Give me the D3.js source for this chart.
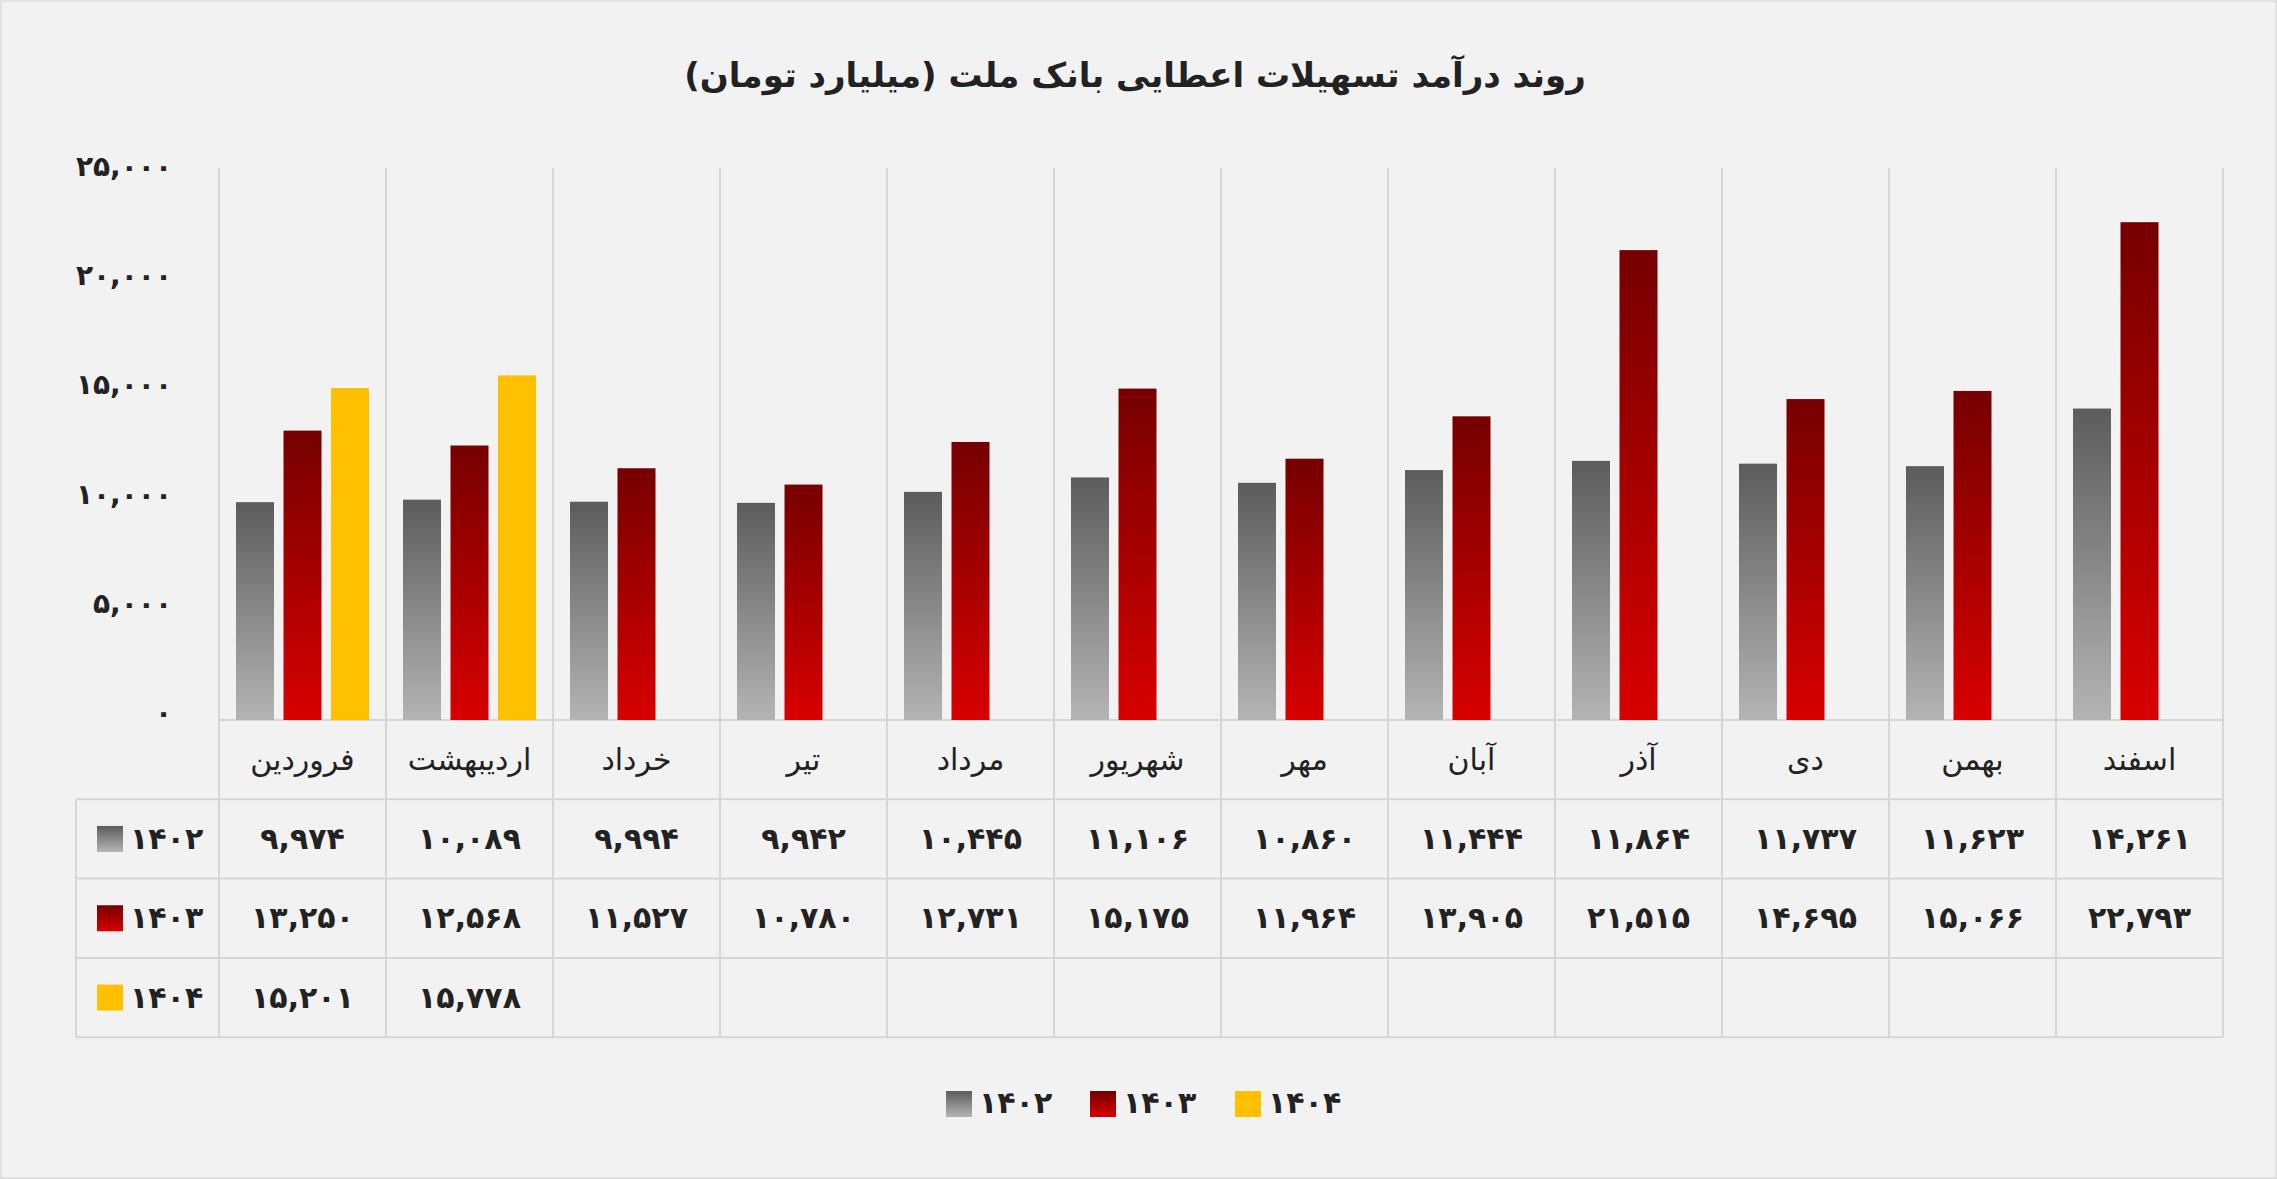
<!DOCTYPE html>
<html><head><meta charset="utf-8">
<script src="https://cdn.jsdelivr.net/npm/d3@7"></script>
<style>body{margin:0;background:#f2f2f2;font-family:"DejaVu Sans","Noto Sans",sans-serif}</style>
</head><body><svg id="chart" width="2277" height="1179"></svg>
<script>
// داده‌ها
const months = ["فروردین","اردیبهشت","خرداد","تیر","مرداد","شهریور","مهر","آبان","آذر","دی","بهمن","اسفند"];
const seriesNames = ["۱۴۰۲","۱۴۰۳","۱۴۰۴"];
const v1402 = [9974,10089,9994,9942,10445,11106,10860,11444,11864,11737,11623,14261];
const v1403 = [13250,12568,11527,10780,12731,15175,11964,13905,21515,14695,15066,22793];
const v1404 = [15201,15778,null,null,null,null,null,null,null,null,null,null];
const yTicks = [0,5000,10000,15000,20000,25000];

const fa = n => String(n).replace(/\B(?=(\d{3})+(?!\d))/g, ",").replace(/\d/g, d => "۰۱۲۳۴۵۶۷۸۹"[d]);

const svg = d3.select("#chart");
const W = 2277, H = 1179;
svg.append("rect").attr("x",1).attr("y",1).attr("width",W-2).attr("height",H-2).attr("fill","#f2f2f2").attr("stroke","#d0d0d0");

// گرادیان‌ها
const defs = svg.append("defs");
const grads = [["g0","#5c5c5c","#b4b4b4"],["g1","#760000","#d80000"],["g2","#ffc000","#ffc000"]];
grads.forEach(([id,a,b]) => {
  const g = defs.append("linearGradient").attr("id",id).attr("x1",0).attr("y1",0).attr("x2",0).attr("y2",1);
  g.append("stop").attr("offset","0%").attr("stop-color",a);
  g.append("stop").attr("offset","100%").attr("stop-color",b);
});

const plotL = 219, plotR = 2223, plotT = 174, base = 720;
const rowH = 79.3;
const x = d3.scaleBand().domain(months).range([plotL,plotR]);
const xs = d3.scaleBand().domain([0,1,2]).range([17,x.bandwidth()-17]).paddingInner(0.2);
const y = d3.scaleLinear().domain([0,25000]).range([base,plotT]);

svg.append("text").attr("x",1135).attr("y",87).attr("text-anchor","middle")
  .attr("font-size",34).attr("font-weight","bold").attr("fill","#222").attr("direction","rtl")
  .text("روند درآمد تسهیلات اعطایی بانک ملت (میلیارد تومان)");

// خطوط عمودی
months.forEach(m => {
  const xx = x(m);
  svg.append("line").attr("x1",xx).attr("x2",xx).attr("y1",plotT-6).attr("y2",base+rowH*4).attr("stroke","#d6d6d6").attr("stroke-width",2);
});
svg.append("line").attr("x1",plotR).attr("x2",plotR).attr("y1",plotT-6).attr("y2",base+rowH*4).attr("stroke","#d6d6d6").attr("stroke-width",2);
svg.append("line").attr("x1",76).attr("x2",76).attr("y1",base+rowH).attr("y2",base+rowH*4).attr("stroke","#d6d6d6").attr("stroke-width",2);
for (let r=0;r<=4;r++) {
  svg.append("line").attr("x1",r===0?plotL:76).attr("x2",plotR).attr("y1",base+rowH*r).attr("y2",base+rowH*r).attr("stroke","#d6d6d6").attr("stroke-width",2);
}

// محور y
svg.append("g").selectAll("text").data(yTicks).join("text")
  .attr("x",172).attr("y",d=>y(d)+2).attr("text-anchor","end").attr("font-size",28).attr("font-weight","bold").attr("fill","#222")
  .text(d=>fa(d));

// میله‌ها
const series = [v1402,v1403,v1404];
series.forEach((vals,s) => {
  svg.append("g").selectAll("rect").data(months.map((m,i)=>({m,v:vals[i]})).filter(d=>d.v!=null)).join("rect")
    .attr("x",d=>x(d.m)+xs(s)).attr("width",xs.bandwidth())
    .attr("y",d=>y(d.v)).attr("height",d=>base-y(d.v)).attr("fill",`url(#g${s})`);
});

// برچسب ماه‌ها
svg.append("g").selectAll("text").data(months).join("text")
  .attr("x",d=>x(d)+x.bandwidth()/2).attr("y",base+rowH/2+10).attr("text-anchor","middle")
  .attr("font-size",30).attr("fill","#222").text(d=>d);

// جدول
series.forEach((vals,s) => {
  const cy = base+rowH*(s+1)+rowH/2;
  svg.append("g").selectAll("text").data(months.map((m,i)=>({m,v:vals[i]})).filter(d=>d.v!=null)).join("text")
    .attr("x",d=>x(d.m)+x.bandwidth()/2).attr("y",cy+10).attr("text-anchor","middle")
    .attr("font-size",30).attr("font-weight","bold").attr("fill","#222").text(d=>fa(d.v));
  svg.append("rect").attr("x",97).attr("y",cy-13).attr("width",26).attr("height",26).attr("fill",`url(#g${s})`);
  svg.append("text").attr("x",130).attr("y",cy+10).attr("font-size",30).attr("font-weight","bold").attr("fill","#222").text(seriesNames[s]);
});

// راهنما
const legX = [946,1090,1235];
seriesNames.forEach((n,s) => {
  svg.append("rect").attr("x",legX[s]).attr("y",1091).attr("width",26).attr("height",26).attr("fill",`url(#g${s})`);
  svg.append("text").attr("x",legX[s]+33).attr("y",1113).attr("font-size",30).attr("font-weight","bold").attr("fill","#222").text(n);
});
</script></body></html>
